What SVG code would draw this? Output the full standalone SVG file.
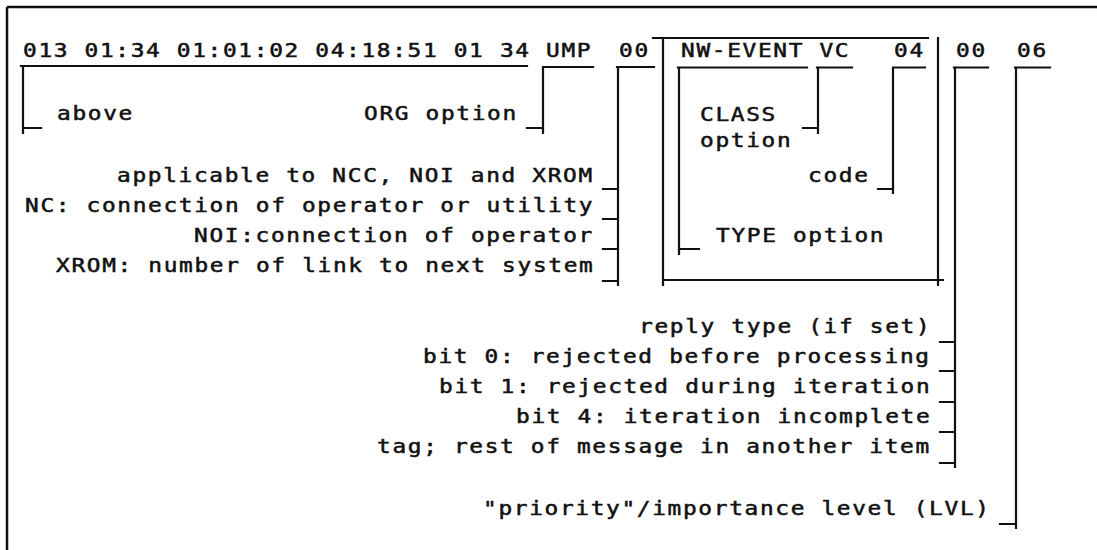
<svg xmlns="http://www.w3.org/2000/svg" width="1097" height="550" viewBox="0 0 1097 550">
<style>
text{font-family:"DejaVu Sans Mono","Liberation Mono",monospace;font-size:19px;letter-spacing:1.39px;fill:#111;stroke:#111;stroke-width:0.5px;}
.ln{stroke:#111;stroke-width:2.2;fill:none;stroke-linecap:square;}
.fr{stroke:#111;stroke-width:2.5;fill:none;}
</style>
<rect width="1097" height="550" fill="#fff"/>
<g id="frame">
<path class="fr" d="M7 7 H1097 M7 7 V550"/>
</g>
<g id="header">
<text transform="translate(23,56.5) scale(1.2,1)">013 01:34 01:01:02 04:18:51 01 34 UMP</text>
<text transform="translate(619,56.5) scale(1.2,1)">00</text>
<text transform="translate(681,56.5) scale(1.2,1)">NW-EVENT VC</text>
<text transform="translate(894,56.5) scale(1.2,1)">04</text>
<text transform="translate(956,56.5) scale(1.2,1)">00</text>
<text transform="translate(1017,56.5) scale(1.2,1)">06</text>
</g>
<g id="box-event">
<path class="ln" d="M653 38 H928 M663 38 V285 M663 280 H943 M938 38 V285"/>
</g>
<g id="connectors">
<path class="ln" d="M21 66 H527 M23 66 V133 M23 128 H41"/>
<path class="ln" d="M543 67 H593 M543 67 V133 M527 128 H543"/>
<path class="ln" d="M617 67 H654 M618 67 V285 M603 189 H618 M603 219 H618 M603 249 H618 M603 281 H618"/>
<path class="ln" d="M678 67.5 H807 M679 67.5 V254 M679 249 H699"/>
<path class="ln" d="M817 67.5 H852 M818 67.5 V133 M803 128 H818"/>
<path class="ln" d="M893 67.5 H925 M893 67.5 V193 M878 189 H893"/>
<path class="ln" d="M954 67.5 H988 M955 67.5 V467 M940 342 H955 M940 371 H955 M940 402 H955 M940 432 H955 M940 463 H955"/>
<path class="ln" d="M1015 67.5 H1050 M1016 67.5 V528 M1000 524 H1016"/>
</g>
<g id="labels">
<text transform="translate(57,120) scale(1.2,1)">above</text>
<text transform="translate(364,120) scale(1.2,1)">ORG option</text>
<text transform="translate(117,182) scale(1.2,1)">applicable to NCC, NOI and XROM</text>
<text transform="translate(25,212) scale(1.2,1)">NC: connection of operator or utility</text>
<text transform="translate(194,242) scale(1.2,1)">NOI:connection of operator</text>
<text transform="translate(56,272) scale(1.2,1)">XROM: number of link to next system</text>
<text transform="translate(700,121) scale(1.2,1)">CLASS</text>
<text transform="translate(700,147) scale(1.2,1)">option</text>
<text transform="translate(808,182) scale(1.2,1)">code</text>
<text transform="translate(716,242) scale(1.2,1)">TYPE option</text>
<text transform="translate(639,333) scale(1.2,1)">reply type (if set)</text>
<text transform="translate(423,363) scale(1.2,1)">bit 0: rejected before processing</text>
<text transform="translate(439,393) scale(1.2,1)">bit 1: rejected during iteration</text>
<text transform="translate(516,423) scale(1.2,1)">bit 4: iteration incomplete</text>
<text transform="translate(377,453) scale(1.2,1)">tag; rest of message in another item</text>
<text transform="translate(483,515) scale(1.2,1)">"priority"/importance level (LVL)</text>
</g>
</svg>
